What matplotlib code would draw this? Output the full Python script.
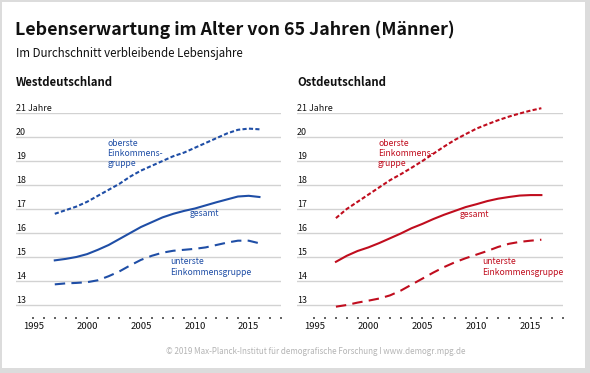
import matplotlib
matplotlib.use("Agg")
import matplotlib.pyplot as plt
from matplotlib.patches import Rectangle
import matplotlib.transforms as mtransforms

# ---------------- data ----------------
years = list(range(1997, 2017))

west_oberste = [16.80, 16.95, 17.10, 17.30, 17.55, 17.80, 18.05, 18.35, 18.60, 18.80,
                19.00, 19.20, 19.35, 19.55, 19.75, 19.95, 20.15, 20.30, 20.35, 20.32]
west_gesamt = [14.86, 14.92, 15.00, 15.12, 15.30, 15.50, 15.75, 16.00, 16.25, 16.45,
               16.65, 16.80, 16.92, 17.02, 17.15, 17.28, 17.40, 17.52, 17.55, 17.50]
west_unterste = [13.86, 13.90, 13.92, 13.95, 14.03, 14.20, 14.40, 14.65, 14.88, 15.05,
                 15.18, 15.26, 15.30, 15.34, 15.40, 15.50, 15.60, 15.68, 15.68, 15.57]

ost_oberste = [16.62, 17.00, 17.30, 17.60, 17.90, 18.20, 18.45, 18.72, 19.00, 19.30,
               19.60, 19.88, 20.12, 20.35, 20.53, 20.70, 20.85, 20.98, 21.10, 21.20]
ost_gesamt = [14.80, 15.05, 15.25, 15.40, 15.58, 15.78, 15.98, 16.20, 16.38, 16.58,
              16.76, 16.92, 17.08, 17.20, 17.33, 17.43, 17.50, 17.56, 17.58, 17.58]
ost_unterste = [12.93, 13.00, 13.10, 13.18, 13.27, 13.40, 13.60, 13.85, 14.10, 14.35,
                14.58, 14.78, 14.95, 15.10, 15.25, 15.42, 15.55, 15.63, 15.68, 15.72]

y_ticks = [13, 14, 15, 16, 17, 18, 19, 20, 21]
y_labels = ["13", "14", "15", "16", "17", "18", "19", "20", "21 Jahre"]
x_major = [1995, 2000, 2005, 2010, 2015]
x_minor = list(range(1995, 2019))

title = "Lebenserwartung im Alter von 65 Jahren (Männer)"
subtitle = "Im Durchschnitt verbleibende Lebensjahre"
panel_titles = ["Westdeutschland", "Ostdeutschland"]
footer = "© 2019 Max-Planck-Institut für demografische Forschung I www.demogr.mpg.de"

# ---------------- style ----------------
FONT = ["Noto Sans CJK SC", "DejaVu Sans"]

BLUE = "#1f4ea6"
RED = "#c00d1e"
GRID = "#d2d2d2"
INK = "#111111"

W, H = 590, 373
fig = plt.figure(figsize=(W / 100, H / 100), dpi=100)
fig.patch.set_facecolor("#dcdcdc")
fig.patches.append(Rectangle((2 / W, 5 / H), 583 / W, 366 / H, transform=fig.transFigure,
                             facecolor="white", edgecolor="none", zorder=-10))


def px_axes(x0, x1, ytop, ybot):
    return fig.add_axes([x0 / W, 1 - ybot / H, (x1 - x0) / W, (ybot - ytop) / H])


fig.text(15 / W, 1 - 30 / H, title, fontsize=12.8, fontweight="bold", family=FONT,
         va="center", ha="left", color=INK)
fig.text(16 / W, 1 - 53 / H, subtitle, fontsize=8.3, family=FONT, va="center", ha="left",
         color=INK)
fig.text(316 / W, 1 - 351 / H, footer, fontsize=5.8, family=FONT, va="center", ha="center",
         color="#b4b4b4")

tick_fs = 6.4
year_fs = 6.9
ann_fs = 6.2
panel_fs = 8.2

panels = [
    dict(x0=16, x1=281, color=BLUE, title=panel_titles[0],
         data=(west_oberste, west_gesamt, west_unterste),
         ann=[("oberste\nEinkommens-\ngruppe", 2001.9, 19.93),
              ("gesamt", 2009.5, 16.98),
              ("unterste\nEinkommensgruppe", 2007.7, 14.98)]),
    dict(x0=297, x1=563, color=RED, title=panel_titles[1],
         data=(ost_oberste, ost_gesamt, ost_unterste),
         ann=[("oberste\nEinkommens-\ngruppe", 2000.9, 19.93),
              ("gesamt", 2008.4, 16.95),
              ("unterste\nEinkommensgruppe", 2010.5, 14.98)]),
]

for p in panels:
    ax = px_axes(p["x0"], p["x1"], 113, 317)
    ax.set_xlim(1993.4, 2018)
    ax.set_ylim(12.5, 21)
    ax.set_facecolor("none")
    for s in ax.spines.values():
        s.set_visible(False)
    for yv in y_ticks:
        ax.axhline(yv, color=GRID, lw=1.0, zorder=1)
    ax.set_yticks([])
    lab_tr = mtransforms.offset_copy(ax.get_yaxis_transform(), fig=fig, x=0, y=2.2, units="dots")
    for yv, lab in zip(y_ticks, y_labels):
        ax.text(0, yv, lab, transform=lab_tr, ha="left", va="baseline",
                fontsize=tick_fs, family=FONT, color=INK)
    ax.set_xticks(x_major)
    ax.set_xticks(x_minor, minor=True)
    ax.set_xticklabels([str(v) for v in x_major], family=FONT, fontsize=year_fs, color=INK)
    ax.tick_params(axis="x", which="both", length=1.6, width=1.3, color="#555555", pad=2.0)

    top, mid, low = p["data"]
    c = p["color"]
    ax.plot(years, top, color=c, lw=1.5, dashes=(2.0, 1.1), clip_on=False, zorder=3)
    ax.plot(years, mid, color=c, lw=1.5, clip_on=False, zorder=3)
    ax.plot(years, low, color=c, lw=1.5, dashes=(5.0, 3.0), clip_on=False, zorder=3)
    for txt, xv, yv in p["ann"]:
        ax.text(xv, yv, txt, ha="left", va="top", fontsize=ann_fs, family=FONT, color=c,
                linespacing=1.15)

    fig.text(p["x0"] / W, 1 - 83 / H, p["title"], fontsize=panel_fs, fontweight="bold",
             family=FONT, va="center", ha="left", color=INK)

fig.savefig("out.png", dpi=100, facecolor=fig.get_facecolor())
